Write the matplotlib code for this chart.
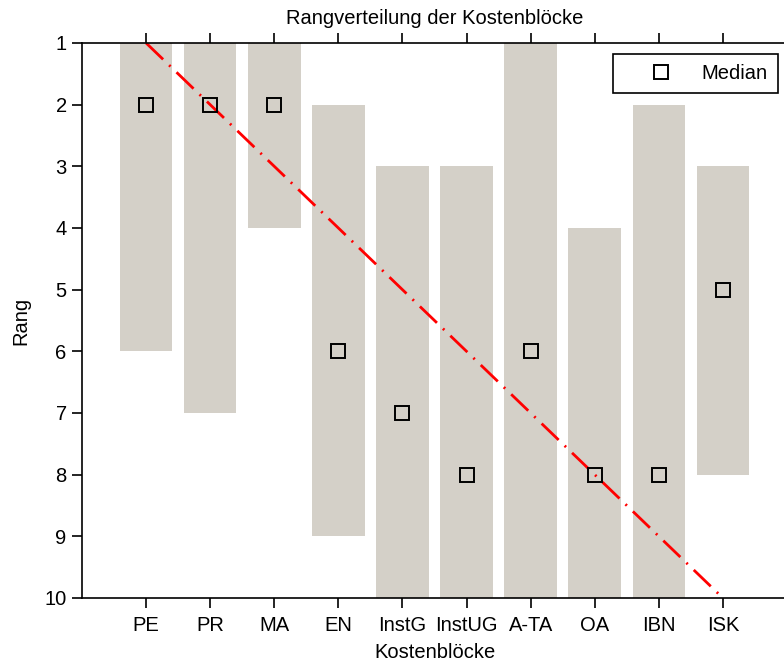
import numpy as np
import matplotlib
matplotlib.use('Agg')
import matplotlib.pyplot as plt

# Rangverteilung pro Kostenblock
kategorien = ['PE', 'PR', 'MA', 'EN', 'InstG', 'InstUG', 'A-TA', 'OA', 'IBN', 'ISK']
rang_min = [1, 1, 1, 2, 3, 3, 1, 4, 2, 3]
rang_max = [6, 7, 4, 9, 10, 10, 10, 10, 10, 8]
median = [2, 2, 2, 6, 7, 8, 6, 8, 8, 5]

plt.rcParams['font.family'] = ['Liberation Sans', 'DejaVu Sans']
plt.rcParams['font.size'] = 14.5

fig = plt.figure(figsize=(7.84, 6.61), dpi=100)
ax = fig.add_axes([82 / 784, 1 - 598 / 661, 705 / 784, 555 / 661])

x = np.arange(1, len(kategorien) + 1)
lo = np.array(rang_min)
hi = np.array(rang_max)
ax.bar(x, hi - lo, bottom=lo, width=0.82, color='#d4d0c8', zorder=1)

ax.plot([x[0], x[-1]], [1, 10], color='red', lw=2, ls=(0, (8.5, 3, 0.7, 3)), zorder=2)
ax.plot(x, median, ls='none', marker='s', ms=9.5, mfc='none', mec='black',
        mew=1.4, label='Median', zorder=3)

ax.set_xlim(0, 11)
ax.set_ylim(10, 1)
ax.set_xticks(x)
ax.set_xticklabels(kategorien)
ax.set_yticks(range(1, 11))
ax.tick_params(axis='x', top=True, direction='out', length=7, width=1.2, pad=6)
ax.tick_params(axis='y', direction='out', length=7, width=1.2, pad=4)
ax.spines['right'].set_visible(False)
for s in ['left', 'top', 'bottom']:
    ax.spines[s].set_linewidth(1.2)

ax.set_title('Rangverteilung der Kostenblöcke', fontsize=14.5, pad=14)
ax.set_xlabel('Kostenblöcke', labelpad=6)
ax.set_ylabel('Rang', labelpad=10)

leg = ax.legend(loc='upper right', bbox_to_anchor=(778 / 784, 1 - 54 / 661),
                bbox_transform=fig.transFigure, fancybox=False, edgecolor='black',
                framealpha=1, borderpad=0.5, handletextpad=0.2, borderaxespad=0,
                handlelength=3.7, markerfirst=True)
leg.get_frame().set_linewidth(1.2)

fig.savefig('out.png', dpi=100)
